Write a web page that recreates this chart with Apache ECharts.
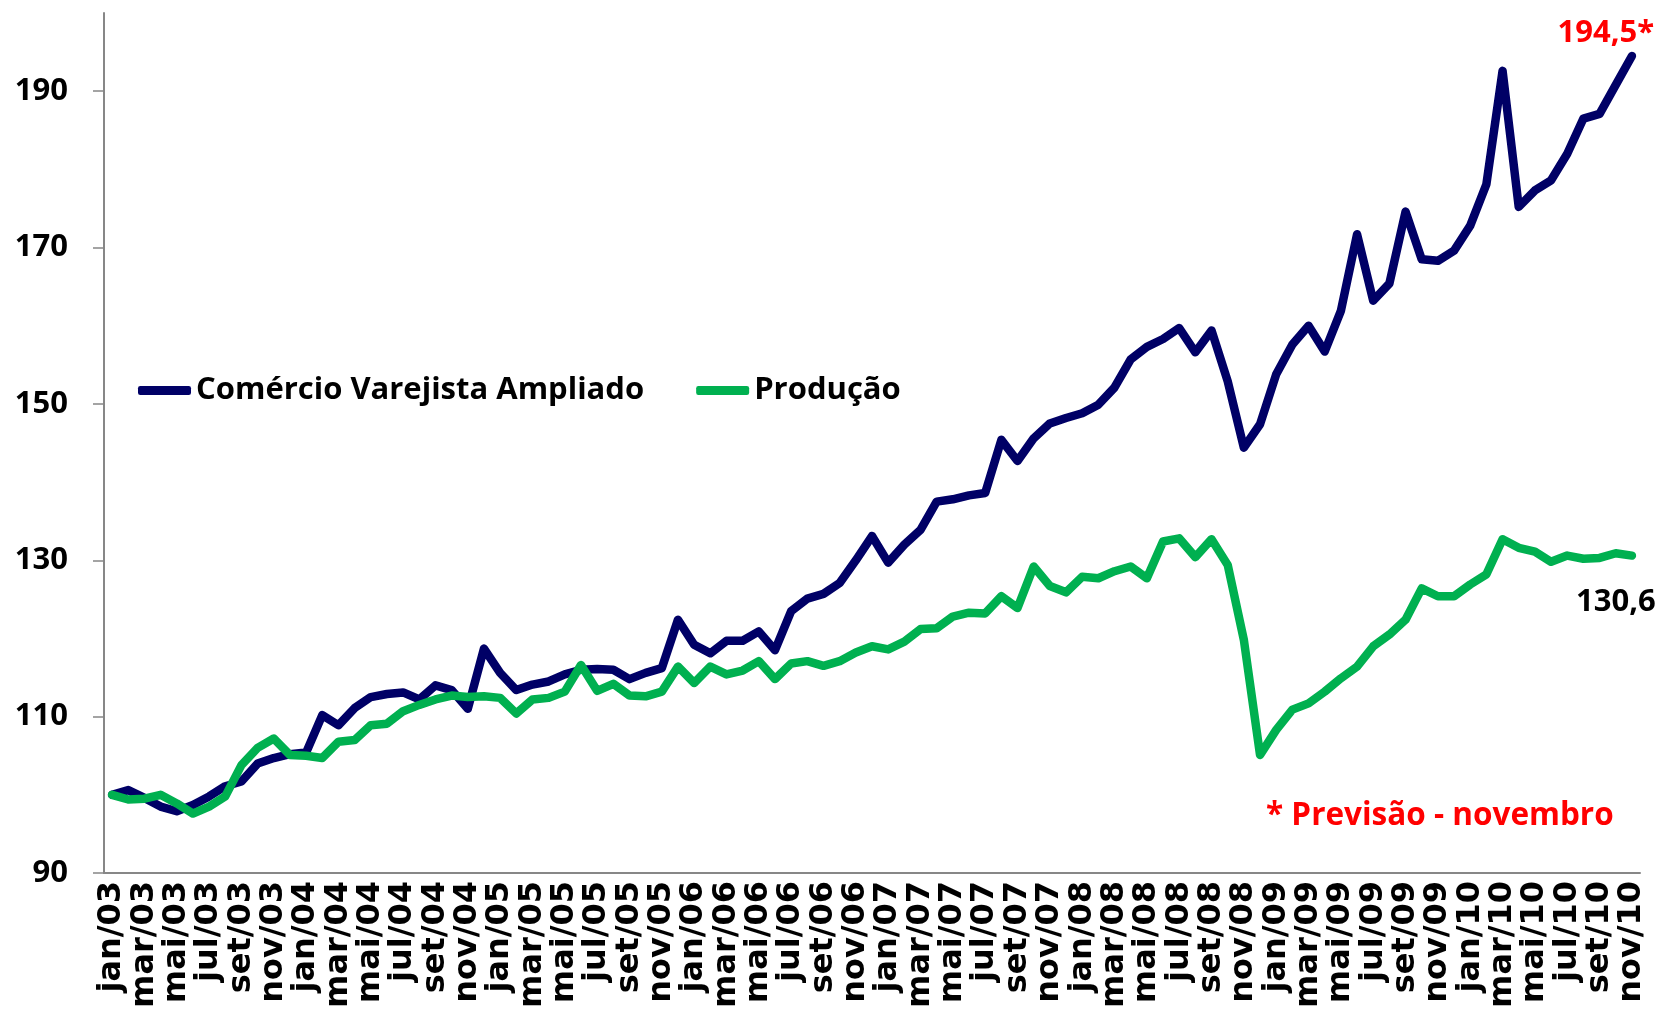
<!DOCTYPE html>
<html>
<head>
<meta charset="utf-8">
<script src="https://cdn.jsdelivr.net/npm/echarts@6/dist/echarts.min.js"></script>
<style>
  html, body { margin: 0; padding: 0; background: #fff; }
  #chart { width: 1664px; height: 1011px; }
</style>
</head>
<body>
<div id="chart"></div>
<script>
// months jan/03 .. nov/10
var monthNames = ['jan', 'fev', 'mar', 'abr', 'mai', 'jun', 'jul', 'ago', 'set', 'out', 'nov', 'dez'];
var years = ['03', '04', '05', '06', '07', '08', '09', '10'];
var yTicks = [90, 110, 130, 150, 170, 190];

var comercio = [
  100.0, 100.6, 99.6, 98.5, 97.9, 98.7, 99.8, 101.1, 101.7, 104.0, 104.7, 105.2,
  105.4, 110.2, 108.9, 111.1, 112.5, 112.9, 113.1, 112.2, 114.0, 113.4, 111.0, 118.7,
  115.6, 113.4, 114.1, 114.5, 115.4, 116.0, 116.1, 116.0, 114.8, 115.6, 116.2, 122.4,
  119.2, 118.1, 119.7, 119.7, 120.9, 118.5, 123.5, 125.1, 125.7, 127.1, 130.0, 133.1,
  129.7, 132.0, 133.9, 137.5, 137.8, 138.3, 138.6, 145.4, 142.7, 145.6, 147.5, 148.2,
  148.8, 149.9, 152.1, 155.7, 157.3, 158.3, 159.7, 156.6, 159.4, 152.9, 144.4, 147.4,
  153.8, 157.6, 160.0, 156.7, 161.9, 171.7, 163.2, 165.4, 174.6, 168.5, 168.3, 169.6,
  172.8, 178.1, 192.6, 175.2, 177.3, 178.6, 182.0, 186.5, 187.1, 190.8, 194.5
];
var producao = [
  100.0, 99.4, 99.5, 100.0, 98.9, 97.6, 98.5, 99.8, 103.8, 106.0, 107.2, 105.1,
  105.0, 104.7, 106.8, 107.0, 108.9, 109.1, 110.7, 111.5, 112.2, 112.7, 112.5, 112.6,
  112.4, 110.4, 112.2, 112.4, 113.2, 116.6, 113.3, 114.2, 112.7, 112.6, 113.2, 116.4,
  114.3, 116.4, 115.4, 115.9, 117.1, 114.8, 116.8, 117.1, 116.5, 117.1, 118.2, 119.0,
  118.6, 119.6, 121.2, 121.3, 122.8, 123.3, 123.2, 125.4, 123.9, 129.2, 126.7, 125.9,
  127.9, 127.7, 128.6, 129.2, 127.7, 132.4, 132.8, 130.4, 132.7, 129.4, 119.8, 105.1,
  108.3, 110.9, 111.7, 113.2, 114.9, 116.4, 119.0, 120.5, 122.4, 126.4, 125.4, 125.4,
  126.9, 128.2, 132.7, 131.6, 131.1, 129.8, 130.6, 130.2, 130.3, 130.9, 130.6
];

var categories = [];
years.forEach(function(y) {
  monthNames.forEach(function(m) { categories.push(m + '/' + y); });
});
categories = categories.slice(0, comercio.length);

var navy = '#000066';
var green = '#00B050';
var axisGray = '#878787';
var font = 'Open Sans';

function fmt(v) { return v.toFixed(1).replace('.', ','); }

// only the last point carries a label (needs a tiny symbol, line labels hang off symbols)
function withEndLabel(values, label) {
  return values.map(function(v, i) {
    if (i !== values.length - 1) return v;
    return { value: v, label: label };
  });
}

var chart = echarts.init(document.getElementById('chart'));
chart.setOption({
  animation: false,
  textStyle: { fontFamily: font },
  grid: { left: 104, right: 24, top: 13, bottom: 138 },
  legend: {
    left: 133,
    top: 370,
    icon: 'roundRect',
    itemWidth: 53,
    itemHeight: 9,
    itemGap: 52,
    textStyle: { fontFamily: font, fontSize: 31, fontWeight: 'bold', color: '#000' },
    data: ['Comércio Varejista Ampliado', 'Produção']
  },
  xAxis: {
    type: 'category',
    data: categories,
    boundaryGap: true,
    axisLine: { lineStyle: { color: axisGray, width: 2 } },
    axisTick: { interval: 1, length: 10, lineStyle: { color: axisGray, width: 1.5 } },
    axisLabel: {
      interval: 1,
      rotate: 90,
      margin: 8,
      showMinLabel: true,
      showMaxLabel: true,
      hideOverlap: false,
      fontFamily: 'DejaVu Sans',
      fontSize: 32,
      fontWeight: 'bold',
      color: '#000'
    },
    splitLine: { show: false }
  },
  yAxis: {
    type: 'value',
    min: 90,
    max: 200,
    interval: 20,
    axisLine: { show: true, lineStyle: { color: axisGray, width: 2 } },
    axisTick: { show: true, length: 11, customValues: yTicks, lineStyle: { color: axisGray, width: 1.5 } },
    axisLabel: {
      customValues: yTicks,
      margin: 36,
      fontFamily: font,
      fontSize: 31,
      fontWeight: 'bold',
      color: '#000'
    },
    splitLine: { show: false }
  },
  series: [
    {
      name: 'Comércio Varejista Ampliado',
      type: 'line',
      data: withEndLabel(comercio, {
        show: true,
        position: 'top',
        distance: 7,
        offset: [-26, 0],
        formatter: function(p) { return fmt(p.value) + '*'; },
        fontFamily: font,
        fontSize: 31,
        fontWeight: 'bold',
        color: '#FF0000'
      }),
      symbol: 'circle',
      symbolSize: 0.1,
      showAllSymbol: true,
      itemStyle: { color: navy },
      lineStyle: { color: navy, width: 8.5, cap: 'round', join: 'round' },
      z: 3
    },
    {
      name: 'Produção',
      type: 'line',
      data: withEndLabel(producao, {
        show: true,
        position: 'bottom',
        distance: 31,
        offset: [-16, 0],
        formatter: function(p) { return fmt(p.value); },
        fontFamily: font,
        fontSize: 31,
        fontWeight: 'bold',
        color: '#000'
      }),
      symbol: 'circle',
      symbolSize: 0.1,
      showAllSymbol: true,
      itemStyle: { color: green },
      lineStyle: { color: green, width: 8.5, cap: 'round', join: 'round' },
      z: 4
    }
  ],
  graphic: [{
    type: 'text',
    left: 1266,
    top: 800,
    style: {
      text: '* Previsão - novembro',
      fill: '#FF0000',
      font: 'bold 31.5px "Open Sans"'
    }
  }]
});
window.addEventListener('resize', function() { chart.resize(); });
</script>
</body>
</html>
